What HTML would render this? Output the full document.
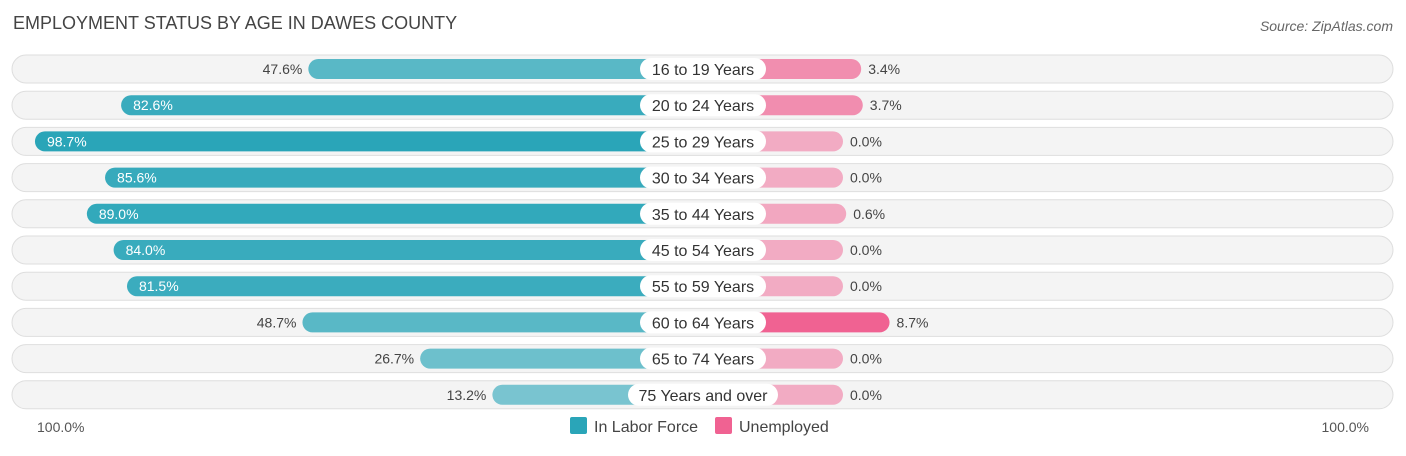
<!DOCTYPE html>
<html><head><meta charset="utf-8"><style>
body{margin:0;background:#fff;font-family:"Liberation Sans",sans-serif;}
</style></head><body>
<svg id="chart" width="1406" height="451" xmlns="http://www.w3.org/2000/svg">
<text x="13" y="29" font-size="18" fill="#444">EMPLOYMENT STATUS BY AGE IN DAWES COUNTY</text>
<text x="1393" y="31" font-size="14" fill="#666" font-style="italic" text-anchor="end">Source: ZipAtlas.com</text>
<g id="rows"></g>
<text x="37" y="432" font-size="14" fill="#555">100.0%</text>
<text x="1369" y="432" font-size="14" fill="#555" text-anchor="end">100.0%</text>
<rect x="570" y="417" width="17" height="17" rx="2" fill="#2aa5b8"/>
<text x="594" y="432" font-size="16" fill="#444">In Labor Force</text>
<rect x="715" y="417" width="17" height="17" rx="2" fill="#f06292"/>
<text x="739" y="432" font-size="16" fill="#444">Unemployed</text>
</svg>
<script>
const categories=["16 to 19 Years","20 to 24 Years","25 to 29 Years","30 to 34 Years","35 to 44 Years","45 to 54 Years","55 to 59 Years","60 to 64 Years","65 to 74 Years","75 Years and over"];
const laborForce=[47.6,82.6,98.7,85.6,89.0,84.0,81.5,48.7,26.7,13.2];
const unemployed=[3.4,3.7,0.0,0.0,0.6,0.0,0.0,8.7,0.0,0.0];
const NS="http://www.w3.org/2000/svg";
const cx=703, base=140, scale=5.35, y0=69, step=36.2;
function len(v){return base+scale*v;}
function rowY(i){return y0+i*step;}
const g=document.getElementById('rows');
function mk(tag,attrs){const e=document.createElementNS(NS,tag);for(const k in attrs)e.setAttribute(k,attrs[k]);g.appendChild(e);return e;}
const maxL=Math.max(...laborForce), maxU=Math.max(...unemployed)||1;
categories.forEach((c,i)=>{
  const y=rowY(i);
  const bg=mk('rect',{x:12,y:y-14,width:1381,height:28,rx:14,fill:'#f4f4f4',stroke:'#dedede','stroke-width':1});
  
  
  const lv=laborForce[i], lw=len(lv);
  const lb=mk('rect',{x:cx-lw,y:y-10,width:lw,height:20,rx:10,fill:'#2aa5b8','fill-opacity':(0.55+0.45*lv/maxL).toFixed(2)});
  
  
  const inside=lv>60;
  const lt=mk('text',{x:inside?cx-lw+12:cx-lw-6,y:y+5,'font-size':14,fill:inside?'#fff':'#444','text-anchor':inside?'start':'end'});
  lt.textContent=lv.toFixed(1)+'%';
  
  
  const uv=unemployed[i], uw=len(uv);
  const ub=mk('rect',{x:cx,y:y-10,width:uw,height:20,rx:10,fill:'#f06292','fill-opacity':(0.5+0.5*uv/maxU).toFixed(2)});
  
  
  const ut=mk('text',{x:cx+uw+7,y:y+5,'font-size':14,fill:'#444'});
  ut.textContent=uv.toFixed(1)+'%';
  
  
  const pw=c.length>15?150:126;
  const p=mk('rect',{x:cx-pw/2,y:y-11,width:pw,height:22,rx:11,fill:'#fff'});
  
  
  const t=mk('text',{x:cx,y:y+6,'font-size':16,fill:'#333','text-anchor':'middle'});
  t.textContent=c;
  
  
});
</script>
</body></html>
